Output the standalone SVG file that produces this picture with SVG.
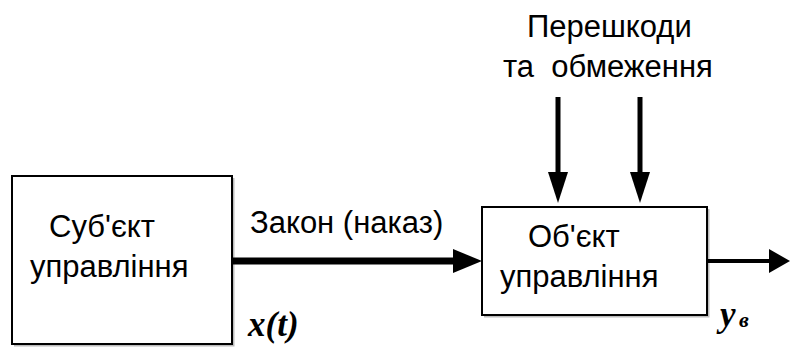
<svg xmlns="http://www.w3.org/2000/svg" width="790" height="347" viewBox="0 0 790 347">
<style>
.box{fill:#fff;stroke:#000;stroke-width:2}
.shadow{fill:none;stroke:#bbb;stroke-width:2}
.t{font-family:"Liberation Sans",Arial,sans-serif;font-size:31px;fill:#000;white-space:pre}
.m{font-family:"Liberation Serif","Times New Roman",serif;font-style:italic;font-weight:bold;fill:#000}
.ln{stroke:#000;fill:none}
.hd{fill:#000}
</style>
<rect width="790" height="347" fill="#fff"/>
<g id="subject">
<polyline class="shadow" points="14,345.5 233.5,345.5 233.5,178"/>
<rect class="box" x="12" y="176" width="220" height="168"/>
<text class="t" x="49" y="237">Суб'єкт</text>
<text class="t" x="30" y="277">управління</text>
</g>
<g id="object">
<polyline class="shadow" points="484,316.5 708.5,316.5 708.5,209"/>
<rect class="box" x="482" y="207" width="225" height="108"/>
<text class="t" x="528" y="247">Об'єкт</text>
<text class="t" x="500" y="287">управління</text>
</g>
<g id="disturbances">
<text class="t" x="527" y="37">Перешкоди</text>
<text class="t" x="503" y="77">та  обмеження</text>
</g>
<g id="connectors">
<line class="ln" x1="232" y1="261" x2="455" y2="261" stroke-width="7"/>
<polygon class="hd" points="453,249 482,261 453,273"/>
<line class="ln" x1="707" y1="261" x2="771" y2="261" stroke-width="4"/>
<polygon class="hd" points="769,249 790,261 769,273"/>
<line class="ln" x1="558" y1="97" x2="558" y2="174" stroke-width="5"/>
<polygon class="hd" points="548,172 558,203 568,172"/>
<line class="ln" x1="640" y1="97" x2="640" y2="174" stroke-width="5"/>
<polygon class="hd" points="630,172 640,203 650,172"/>
</g>
<g id="labels">
<text class="t" x="250" y="233">Закон (наказ)</text>
<text class="m" x="248" y="336" font-size="35">x(t)</text>
<text class="m" x="720" y="326" font-size="35">y</text>
<text class="m" x="739" y="327" font-size="22">в</text>
</g>
</svg>
